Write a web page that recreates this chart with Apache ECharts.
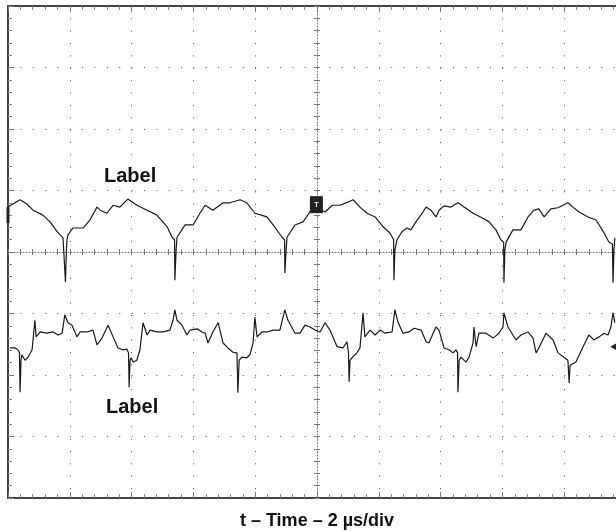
<!DOCTYPE html>
<html><head><meta charset="utf-8">
<script src="https://cdn.jsdelivr.net/npm/echarts@6/dist/echarts.min.js"></script>
<style>html,body{margin:0;padding:0;background:#fff}#c{width:616px;height:531px}</style>
</head><body><div id="c"></div>
<script>
// Time in microseconds (2 us/div, 10 div), amplitude in divisions (8 div, centre = 0)
const ch1T = [0,0.06,0.39,0.61,0.81,1.13,1.36,1.59,1.78,1.84,1.86,1.89,1.91,1.94,2.10,2.43,2.65,2.88,2.98,3.20,3.40,3.62,3.88,4.17,4.50,4.82,5.15,5.31,5.39,5.40,5.44,5.47,5.73,5.99,6.21,6.38,6.44,6.63,6.96,7.18,7.51,7.73,7.99,8.38,8.58,8.87,8.95,8.96,9.00,9.03,9.29,9.55,9.77,10.0,10.26,10.49,10.74,11.00,11.17,11.39,11.62,11.88,12.14,12.36,12.48,12.49,12.52,12.59,12.75,12.91,13.04,13.20,13.43,13.53,13.69,13.85,13.95,14.11,14.34,14.56,14.76,15.05,15.37,15.57,15.79,15.95,16.04,16.05,16.08,16.12,16.34,16.60,16.83,17.02,17.18,17.35,17.57,17.80,17.96,18.12,18.28,18.48,18.77,19.03,19.29,19.45,19.56,19.58,19.61,19.64];
const ch1V = [0.73,0.76,0.85,0.78,0.68,0.60,0.49,0.33,0.23,0.20,-0.49,0.03,0.20,0.28,0.39,0.39,0.52,0.73,0.68,0.63,0.76,0.73,0.86,0.76,0.68,0.60,0.41,0.24,0.20,-0.46,0.03,0.24,0.44,0.44,0.63,0.76,0.76,0.68,0.80,0.80,0.85,0.80,0.63,0.57,0.44,0.24,0.20,-0.34,0.03,0.24,0.44,0.49,0.65,0.72,0.65,0.76,0.76,0.81,0.85,0.73,0.63,0.57,0.41,0.31,0.20,-0.46,0.03,0.20,0.33,0.39,0.36,0.49,0.65,0.73,0.68,0.57,0.68,0.75,0.73,0.80,0.73,0.63,0.55,0.49,0.36,0.20,0.16,-0.50,0.03,0.16,0.36,0.36,0.57,0.68,0.70,0.57,0.70,0.72,0.76,0.80,0.73,0.65,0.57,0.52,0.31,0.16,0.13,-0.50,0.03,0.23];
const ch2T = [0.06,0.23,0.32,0.37,0.39,0.42,0.45,0.55,0.65,0.78,0.81,0.87,0.91,1.04,1.26,1.46,1.62,1.75,1.84,1.94,2.07,2.23,2.33,2.56,2.75,2.88,3.04,3.24,3.40,3.56,3.72,3.85,3.90,3.92,3.95,3.98,4.05,4.17,4.27,4.37,4.50,4.60,4.82,5.02,5.24,5.34,5.40,5.47,5.63,5.79,5.89,6.12,6.28,6.38,6.47,6.63,6.80,6.96,7.12,7.28,7.41,7.44,7.48,7.57,7.73,7.83,7.93,7.99,8.06,8.22,8.38,8.58,8.80,8.96,9.06,9.29,9.45,9.61,9.77,9.94,10.10,10.26,10.42,10.65,10.84,10.97,11.02,11.04,11.07,11.13,11.29,11.39,11.49,11.55,11.72,11.88,12.04,12.20,12.43,12.52,12.62,12.78,12.98,13.14,13.37,13.53,13.62,13.85,13.95,14.11,14.27,14.40,14.50,14.55,14.56,14.60,14.66,14.82,14.92,15.05,15.08,15.15,15.24,15.47,15.70,15.89,16.02,16.05,16.18,16.44,16.60,16.83,16.99,17.09,17.18,17.41,17.64,17.80,17.99,18.12,18.16,18.19,18.22,18.38,18.61,18.80,18.96,19.13,19.29,19.42,19.51,19.58,19.64];
const ch2V = [-1.56,-1.56,-1.59,-1.63,-2.28,-1.76,-1.67,-1.76,-1.71,-1.59,-1.43,-1.11,-1.38,-1.30,-1.32,-1.30,-1.35,-1.32,-1.02,-1.15,-1.19,-1.38,-1.30,-1.30,-1.27,-1.51,-1.40,-1.19,-1.38,-1.56,-1.59,-1.58,-1.64,-2.20,-1.76,-1.72,-1.79,-1.76,-1.59,-1.15,-1.35,-1.27,-1.30,-1.30,-1.27,-1.11,-0.94,-1.11,-1.19,-1.35,-1.27,-1.25,-1.30,-1.32,-1.48,-1.30,-1.15,-1.48,-1.56,-1.63,-1.64,-2.29,-1.76,-1.71,-1.72,-1.67,-1.48,-1.06,-1.38,-1.30,-1.30,-1.27,-1.27,-0.94,-1.11,-1.32,-1.32,-1.19,-1.22,-1.27,-1.30,-1.15,-1.27,-1.54,-1.56,-1.46,-1.64,-2.11,-1.76,-1.72,-1.64,-1.56,-0.99,-1.38,-1.27,-1.35,-1.27,-1.32,-1.30,-0.94,-1.14,-1.32,-1.30,-1.24,-1.27,-1.46,-1.48,-1.22,-1.27,-1.56,-1.59,-1.64,-1.59,-1.64,-2.28,-1.76,-1.71,-1.79,-1.71,-1.48,-1.22,-1.54,-1.32,-1.32,-1.40,-1.32,-1.22,-0.99,-1.22,-1.43,-1.35,-1.30,-1.40,-1.64,-1.56,-1.32,-1.43,-1.64,-1.71,-1.76,-2.13,-1.84,-1.87,-1.79,-1.54,-1.35,-1.43,-1.38,-1.32,-1.35,-1.22,-0.99,-1.15];
// Scope markers: [time, amplitude]
const ch1GroundMarker = [0, 0.60];
const triggerMarker = [9.98, 0.77];
const ch2LevelMarker = [19.62, -1.54];
const traceLabels = ['Label', 'Label'];
const xTitle = 't \u2013 Time \u2013 2 \u00b5s/div';

const pair = (t, v) => t.map((x, i) => [x, v[i]]);
const chart = echarts.init(document.getElementById('c'), null, {renderer: 'canvas'});
const dot = [1, 11.36];
const borderAxis = (extra) => Object.assign({
  type: 'value', min: 0, max: 20, interval: 2,
  axisLine: {show: true, onZero: false, lineStyle: {color: '#444', width: 2}},
  axisTick: {show: true, inside: true, length: 6, lineStyle: {color: '#777', width: 1}},
  minorTick: {show: true, splitNumber: 5, length: 4, lineStyle: {color: '#888', width: 1}},
  axisLabel: {show: false}, splitLine: {show: false}
}, extra);
const yBase = (extra) => Object.assign({
  type: 'value', min: -4, max: 4, interval: 1,
  axisLine: {show: true, onZero: false, lineStyle: {color: '#444', width: 2}},
  axisTick: {show: true, inside: true, length: 6, lineStyle: {color: '#777', width: 1}},
  minorTick: {show: true, splitNumber: 5, length: 4, lineStyle: {color: '#888', width: 1}},
  axisLabel: {show: false}, splitLine: {show: false}
}, extra);
const centreLine = {show: true, onZero: false, lineStyle: {color: '#777', width: 1, type: [1, 2]}};
const centreTick = (inside) => ({show: true, inside, length: 3, lineStyle: {color: '#777', width: 1}});
const centreMinor = {show: true, splitNumber: 5, length: 3, lineStyle: {color: '#777', width: 1}};

chart.setOption({
  animation: false,
  backgroundColor: '#fff',
  grid: {left: 8, top: 6, width: 618, height: 492, containLabel: false, outerBoundsMode: 'none'},
  xAxis: [
    borderAxis({position: 'bottom',
      splitLine: {show: true, lineStyle: {color: '#555', width: 1, type: dot}},
      name: xTitle, nameLocation: 'middle', nameGap: 14,
      nameTextStyle: {fontFamily: 'Liberation Sans', fontWeight: 'bold', fontSize: 18, color: '#111'}}),
    borderAxis({position: 'top'}),
    borderAxis({position: 'bottom', offset: -246, axisLine: centreLine, axisTick: centreTick(true), minorTick: centreMinor}),
    borderAxis({position: 'bottom', offset: -246, axisLine: {show: false, onZero: false}, axisTick: centreTick(false), minorTick: centreMinor})
  ],
  yAxis: [
    yBase({position: 'left',
      splitLine: {show: true, lineStyle: {color: '#555', width: 1, type: dot}}}),
    yBase({position: 'left', offset: -309, axisLine: centreLine, axisTick: centreTick(true), minorTick: centreMinor}),
    yBase({position: 'left', offset: -309, axisLine: {show: false, onZero: false}, axisTick: centreTick(false), minorTick: centreMinor})
  ],
  series: [
    {type: 'line', name: 'ch1', data: pair(ch1T, ch1V), xAxisIndex: 0, yAxisIndex: 0,
     showSymbol: false, lineStyle: {color: '#1a1a1a', width: 1.2}, clip: true,
     markPoint: {silent: true, data: [
       {coord: ch1GroundMarker, symbol: 'rect', symbolSize: [3, 16], itemStyle: {color: '#222'}, label: {show: false}},
       {coord: triggerMarker, symbol: 'rect', symbolSize: [13, 17], itemStyle: {color: '#222'},
        label: {show: true, position: 'inside', formatter: 'T', color: '#ddd', fontSize: 8, fontWeight: 'bold'}}
     ]}},
    {type: 'line', name: 'ch2', data: pair(ch2T, ch2V), xAxisIndex: 0, yAxisIndex: 0,
     showSymbol: false, lineStyle: {color: '#1a1a1a', width: 1.2}, clip: false,
     markPoint: {silent: true, data: [
       {coord: ch2LevelMarker, symbol: 'triangle', symbolRotate: 90, symbolSize: [9, 8], itemStyle: {color: '#222'}, label: {show: false}}
     ]}}
  ],
  graphic: [
    {type: 'text', left: 104, top: 166, style: {text: traceLabels[0], font: 'bold 20px "Liberation Sans"', fill: '#111'}},
    {type: 'text', left: 106, top: 397, style: {text: traceLabels[1], font: 'bold 20px "Liberation Sans"', fill: '#111'}}
  ]
});
</script></body></html>
